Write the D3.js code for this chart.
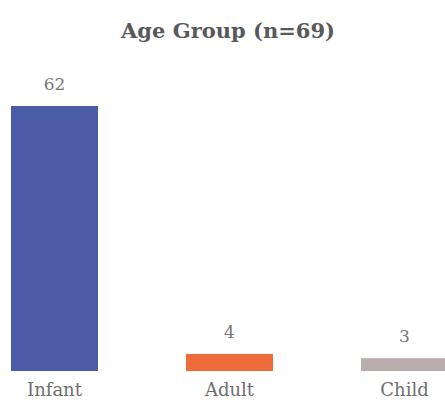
<!DOCTYPE html>
<html>
<head>
<meta charset="utf-8">
<script src="https://cdn.jsdelivr.net/npm/d3@7"></script>
<style>
  html, body { margin: 0; padding: 0; background: #ffffff; }
  svg { display: block; }
</style>
</head>
<body>
<svg id="chart" width="445" height="402"></svg>
<script>
// Age group counts
const categories = ["Infant", "Adult", "Child"];
const counts = [62, 4, 3];
const barColors = ["#4b5ba8", "#ee6c3c", "#b9acac"];
const titleText = "Age Group (n=69)";

const svg = d3.select("#chart");
const baseline = 371;

const x = d3.scaleBand()
  .domain(categories)
  .range([11, 448])
  .paddingInner(0.503)
  .paddingOuter(0);

const y = d3.scaleLinear()
  .domain([0, 62])
  .range([baseline, 106]);

svg.append("text")
  .attr("x", 228)
  .attr("y", 38)
  .attr("text-anchor", "middle")
  .attr("font-family", "DejaVu Serif")
  .attr("font-weight", "bold")
  .attr("font-size", 21)
  .attr("fill", "#595959")
  .text(titleText);

const data = categories.map((c, i) => ({ c, v: counts[i], col: barColors[i] }));

svg.selectAll("rect.bar")
  .data(data)
  .join("rect")
  .attr("class", "bar")
  .attr("x", d => x(d.c))
  .attr("y", d => y(d.v))
  .attr("width", x.bandwidth())
  .attr("height", d => baseline - y(d.v))
  .attr("fill", d => d.col);

svg.selectAll("text.val")
  .data(data)
  .join("text")
  .attr("class", "val")
  .attr("x", d => x(d.c) + x.bandwidth() / 2)
  .attr("y", d => y(d.v) - 16)
  .attr("text-anchor", "middle")
  .attr("font-family", "DejaVu Serif")
  .attr("font-size", 17)
  .attr("fill", "#777777")
  .text(d => d.v);

// category axis labels
const axis = d3.axisBottom(x).tickSize(0).tickPadding(12);
const g = svg.append("g")
  .attr("transform", `translate(0,${baseline})`)
  .call(axis);
g.select(".domain").remove();
g.selectAll("text")
  .attr("font-family", "DejaVu Serif")
  .attr("font-size", 18)
  .attr("fill", "#6e6e6e");
</script>
</body>
</html>
